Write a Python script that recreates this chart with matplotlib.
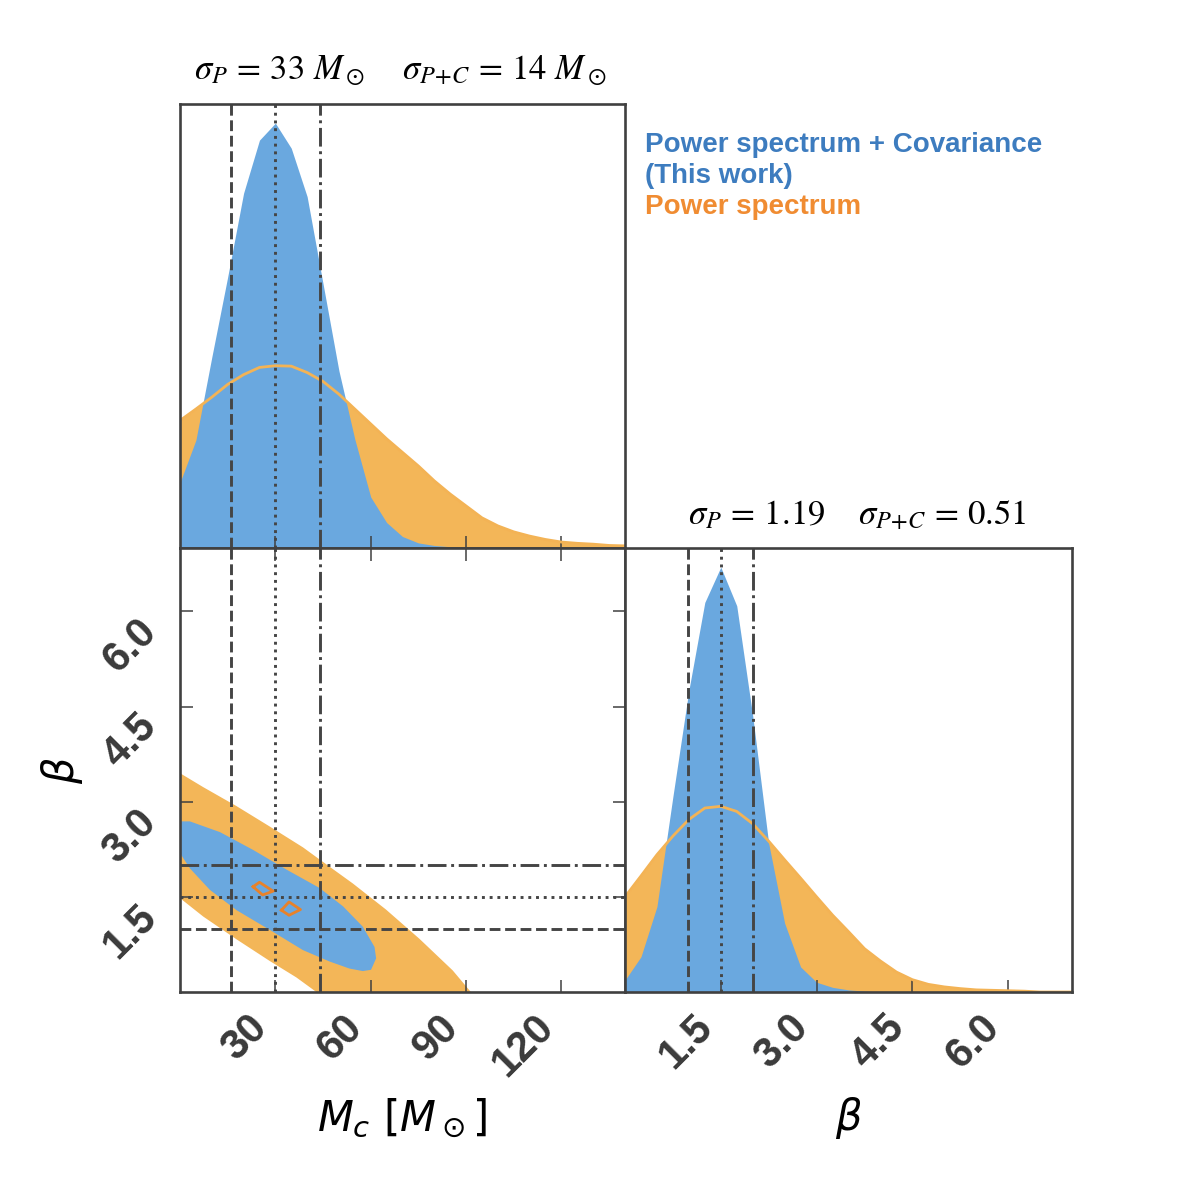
import matplotlib
matplotlib.use("Agg")
import matplotlib.pyplot as plt

# ---------------- data ----------------
mc_grid = [0, 5, 10, 15, 20, 25, 30, 35, 40, 45, 50, 55, 60, 65, 70, 75, 80, 85, 90,
           95, 100, 105, 110, 115, 120, 125, 130, 135, 140]
# marginal of Mc, "Power spectrum + Covariance" (relative density, peak = 1)
mc_pc = [0.154, 0.254, 0.449, 0.638, 0.835, 0.960, 1.000, 0.941, 0.827, 0.622, 0.417,
         0.256, 0.120, 0.060, 0.027, 0.012, 0.006, 0.003, 0.001, 0.0, 0.0, 0.0, 0.0,
         0.0, 0.0, 0.0, 0.0, 0.0, 0.0]
# marginal of Mc, "Power spectrum"
mc_p = [0.300, 0.327, 0.355, 0.385, 0.408, 0.425, 0.429, 0.428, 0.413, 0.392, 0.362,
        0.327, 0.292, 0.257, 0.225, 0.193, 0.158, 0.127, 0.099, 0.071, 0.052, 0.038,
        0.028, 0.020, 0.014, 0.011, 0.009, 0.006, 0.005]

beta_grid = [0.0, 0.25, 0.5, 0.75, 1.0, 1.25, 1.5, 1.75, 2.0, 2.25, 2.5, 2.75, 3.0,
             3.25, 3.5, 3.75, 4.0, 4.25, 4.5, 4.75, 5.0, 5.25, 5.5, 5.75, 6.0, 6.25,
             6.5, 6.75, 7.0]
beta_pc = [0.028, 0.083, 0.201, 0.460, 0.710, 0.917, 1.000, 0.909, 0.650, 0.350, 0.162,
           0.059, 0.023, 0.011, 0.005, 0.002, 0.0, 0.0, 0.0, 0.0, 0.0, 0.0, 0.0, 0.0,
           0.0, 0.0, 0.0, 0.0, 0.0]
beta_p = [0.224, 0.273, 0.323, 0.367, 0.406, 0.433, 0.437, 0.425, 0.396, 0.355, 0.311,
          0.268, 0.224, 0.181, 0.142, 0.102, 0.073, 0.047, 0.029, 0.018, 0.012, 0.008,
          0.005, 0.004, 0.003, 0.002, 0.0, 0.0, 0.0]

# truth and +/- sigma(P+C) reference lines
mc_lower, mc_truth, mc_upper = 16.0, 30.0, 44.0
beta_lower, beta_truth, beta_upper = 0.99, 1.5, 2.01

# 2D credible regions (Mc, beta)
region_p_mc = [0.0, 7.3, 17.8, 28.2, 38.7, 43.9, 54.4, 64.8, 75.3, 85.8, 91.5,
               42.9, 36.6, 28.2, 17.8, 7.3, 0.0]
region_p_beta = [3.45, 3.23, 2.93, 2.61, 2.28, 2.09, 1.71, 1.30, 0.84, 0.34, 0.0,
                 0.0, 0.23, 0.49, 0.83, 1.19, 1.48]
region_pc_mc = [0.0, 3.1, 12.6, 23.0, 33.5, 43.9, 51.3, 57.5, 61.2, 61.7, 60.1, 57.5,
                53.3, 47.1, 38.7, 28.2, 17.8, 9.4, 3.1, 0.0]
region_pc_beta = [2.69, 2.69, 2.52, 2.24, 1.93, 1.64, 1.35, 1.03, 0.71, 0.53, 0.35, 0.33,
                  0.37, 0.48, 0.66, 0.98, 1.29, 1.61, 1.95, 2.19]
peak1_mc = [23.0, 25.0, 29.3, 26.0, 23.0]
peak1_beta = [1.66, 1.73, 1.59, 1.53, 1.66]
peak2_mc = [31.9, 34.3, 37.9, 34.3, 31.9]
peak2_beta = [1.29, 1.42, 1.30, 1.21, 1.29]

mc_ticks = [30, 60, 90, 120]
mc_tick_labels = ["30", "60", "90", "120"]
beta_ticks = [1.5, 3.0, 4.5, 6.0]
beta_tick_labels = ["1.5", "3.0", "4.5", "6.0"]
mc_range = (0, 140)
beta_range = (0, 7)

title_mc = r"$\sigma_P \,=\, 33\ M_\odot\quad\ \sigma_{P{+}C} \,=\, 14\ M_\odot$"
title_beta = r"$\sigma_P \,=\, 1.19\quad\ \sigma_{P{+}C} \,=\, 0.51$"
label_mc = r"$M_c\ [M_\odot]$"
label_beta = r"$\beta$"
legend_pc = ["Power spectrum + Covariance", "(This work)"]
legend_p = "Power spectrum"

# ---------------- style ----------------
BLUE = "#6aa8df"
ORANGE = "#f3b658"
ORANGE_LINE = "#f3b355"
ORANGE_DARK = "#e8822a"
BLUE_TXT = "#3d7cbf"
ORANGE_TXT = "#f08c32"
DARK = "#404040"
LINE = "#454545"

W, H = 1196, 1178
fig = plt.figure(figsize=(W / 100, H / 100), dpi=100)


def rect(x0, y0, x1, y1):
    return [x0 / W, 1 - y1 / H, (x1 - x0) / W, (y1 - y0) / H]


ax_top = fig.add_axes(rect(180, 104, 625, 548))
ax_2d = fig.add_axes(rect(180, 548, 625, 992))
ax_br = fig.add_axes(rect(625, 548, 1072, 992))

tick_font = dict(family="Liberation Sans", weight="bold", size=30, color="#3a3a3a")

for ax in (ax_top, ax_2d, ax_br):
    for s in ax.spines.values():
        s.set_color(DARK)
        s.set_linewidth(1.9)
        s.set_zorder(5)
    ax.tick_params(direction="in", length=9, width=1.1, color=DARK, pad=11)

ref_kw = dict(color=LINE, lw=2.1, zorder=3)

# ---- top-left: Mc marginal ----
ax_top.fill_between(mc_grid, 0, mc_p, color=ORANGE, lw=0, zorder=1)
ax_top.fill_between(mc_grid, 0, mc_pc, color=BLUE, lw=0, zorder=1.5)
ax_top.plot(mc_grid, mc_p, color=ORANGE_LINE, lw=2.0, zorder=2)
ax_top.axvline(mc_lower, ls="--", **ref_kw)
ax_top.axvline(mc_truth, ls=":", **ref_kw)
ax_top.axvline(mc_upper, ls="-.", **ref_kw)
ax_top.set_xlim(*mc_range)
ax_top.set_ylim(0, 1.045 * max(mc_pc))
ax_top.set_xticks(mc_ticks)
ax_top.set_xticklabels([])
ax_top.set_yticks([])
ax_top.text(0.495, 1.056, title_mc, transform=ax_top.transAxes, ha="center",
            va="baseline", fontsize=25, math_fontfamily="stix")

# ---- bottom-left: 2D ----
ax_2d.fill(region_p_mc, region_p_beta, color=ORANGE, lw=0, zorder=1)
ax_2d.fill(region_pc_mc, region_pc_beta, color=BLUE, lw=0, zorder=1.5)
ax_2d.plot(peak1_mc, peak1_beta, color=ORANGE_DARK, lw=2.0, zorder=4)
ax_2d.plot(peak2_mc, peak2_beta, color=ORANGE_DARK, lw=2.0, zorder=4)
ax_2d.axvline(mc_lower, ls="--", **ref_kw)
ax_2d.axvline(mc_truth, ls=":", **ref_kw)
ax_2d.axvline(mc_upper, ls="-.", **ref_kw)
ax_2d.axhline(beta_lower, ls="--", **ref_kw)
ax_2d.axhline(beta_truth, ls=":", **ref_kw)
ax_2d.axhline(beta_upper, ls="-.", **ref_kw)
ax_2d.set_xlim(*mc_range)
ax_2d.set_ylim(*beta_range)
ax_2d.set_xticks(mc_ticks)
ax_2d.set_xticklabels(mc_tick_labels, rotation=45, ha="right", **tick_font)
ax_2d.set_yticks(beta_ticks)
ax_2d.set_yticklabels(beta_tick_labels, rotation=45, va="top", **tick_font)
ax_2d.tick_params(top=True, right=True)
ax_2d.set_xlabel(label_mc, fontsize=30, va="center")
ax_2d.xaxis.set_label_coords(0.5, -0.284)
ax_2d.set_ylabel(label_beta, fontsize=30, va="center")
ax_2d.yaxis.set_label_coords(-0.265, 0.5)

# ---- bottom-right: beta marginal ----
ax_br.fill_between(beta_grid, 0, beta_p, color=ORANGE, lw=0, zorder=1)
ax_br.fill_between(beta_grid, 0, beta_pc, color=BLUE, lw=0, zorder=1.5)
ax_br.plot(beta_grid, beta_p, color=ORANGE_LINE, lw=2.0, zorder=2)
ax_br.axvline(beta_lower, ls="--", **ref_kw)
ax_br.axvline(beta_truth, ls=":", **ref_kw)
ax_br.axvline(beta_upper, ls="-.", **ref_kw)
ax_br.set_xlim(*beta_range)
ax_br.set_ylim(0, 1.045 * max(beta_pc))
ax_br.set_xticks(beta_ticks)
ax_br.set_xticklabels(beta_tick_labels, rotation=45, ha="right", **tick_font)
ax_br.set_yticks([])
ax_br.set_xlabel(label_beta, fontsize=30, va="center")
ax_br.xaxis.set_label_coords(0.5, -0.284)
ax_br.text(0.52, 1.052, title_beta, transform=ax_br.transAxes, ha="center",
           va="baseline", fontsize=25, math_fontfamily="stix")

# ---- legend text ----
leg_font = dict(family="Liberation Sans", weight="bold", size=20, va="baseline")
fig.text(645 / W, 1 - 152 / H, legend_pc[0], color=BLUE_TXT, **leg_font)
fig.text(645 / W, 1 - 183 / H, legend_pc[1], color=BLUE_TXT, **leg_font)
fig.text(645 / W, 1 - 214 / H, legend_p, color=ORANGE_TXT, **leg_font)

fig.savefig("out.png", dpi=100, facecolor="white")
